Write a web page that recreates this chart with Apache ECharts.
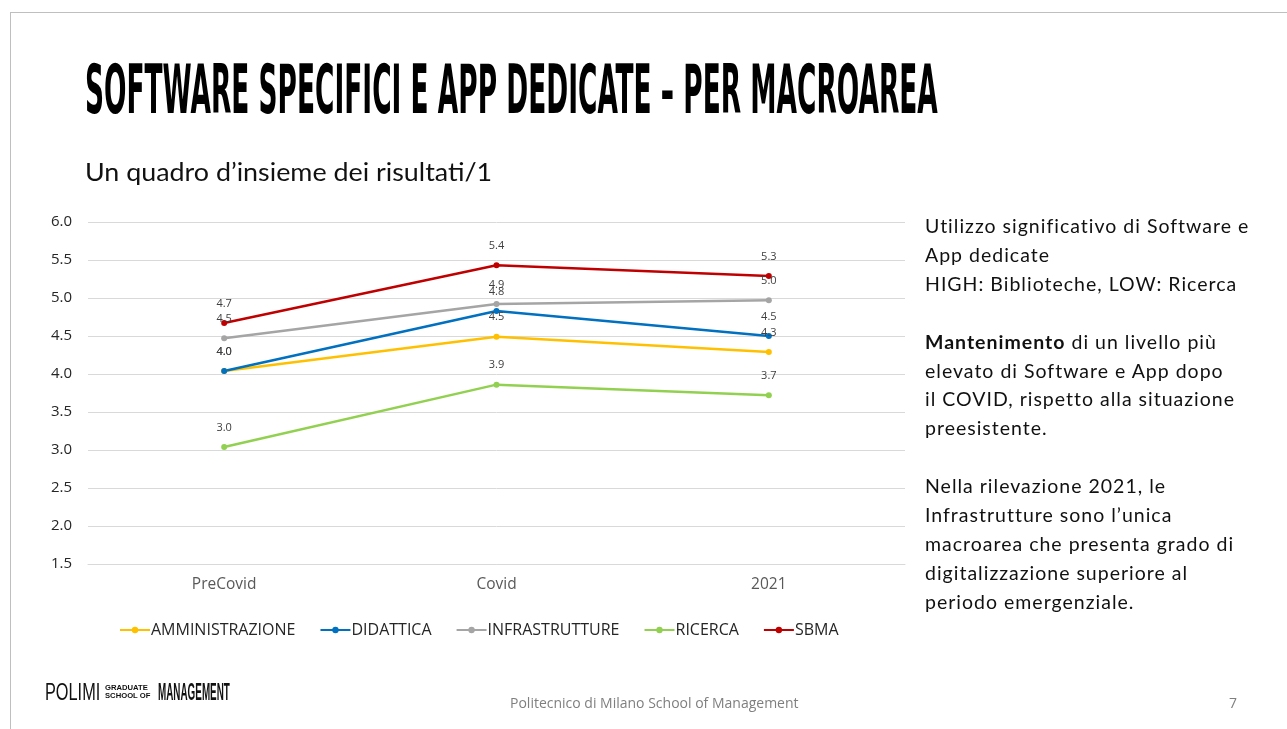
<!DOCTYPE html>
<html>
<head>
<meta charset="utf-8">
<script src="https://cdn.jsdelivr.net/npm/echarts@6/dist/echarts.min.js"></script>
<style>
  html, body { margin: 0; padding: 0; background: #fff; }
  #page { position: relative; width: 1287px; height: 729px; overflow: hidden; }
  #chart { position: absolute; left: 0; top: 0; width: 1287px; height: 729px; }
  .frame-top { position: absolute; left: 10px; top: 12px; width: 1277px; height: 1px; background: #bfbfbf; }
  .frame-left { position: absolute; left: 10px; top: 12px; width: 1px; height: 717px; background: #bfbfbf; }
  .title { position: absolute; left: 85px; top: 50px; font-family: "Liberation Sans Narrow", "DejaVu Sans Condensed", sans-serif;
           font-weight: bold; font-size: 68px; line-height: 80px; white-space: nowrap; color: #000; transform-origin: 0 0; }
  .subtitle { position: absolute; left: 85px; top: 156px; font-family: Lato, sans-serif; font-size: 25px; color: #111; white-space: nowrap; transform-origin: 0 0; }
  .notes { position: absolute; left: 925px; top: 212px; font-family: Lato, sans-serif; font-size: 19.5px; letter-spacing: 1px; line-height: 28.9px; color: #111; white-space: nowrap; }
  .footer { position: absolute; top: 693px; font-family: "Open Sans", sans-serif; font-size: 14px; color: #7f7f7f; }
  .logo { position: absolute; font-family: "Liberation Sans Narrow", sans-serif; font-weight: bold; color: #111; white-space: nowrap; transform-origin: 0 0; }
</style>
</head>
<body>
<div id="page">
  <div id="chart"></div>
  <div class="frame-top"></div>
  <div class="frame-left"></div>
  <div class="title" id="title">SOFTWARE SPECIFICI E APP DEDICATE – PER MACROAREA</div>
  <div class="subtitle" id="subtitle">Un quadro d’insieme dei risultati/1</div>
  <div class="notes">
    Utilizzo significativo di Software e<br>
    App dedicate<br>
    HIGH: Biblioteche, LOW: Ricerca<br>
    <br>
    <b>Mantenimento</b> di un livello più<br>
    elevato di Software e App dopo<br>
    il COVID, rispetto alla situazione<br>
    preesistente.<br>
    <br>
    Nella rilevazione 2021, le<br>
    Infrastrutture sono l’unica<br>
    macroarea che presenta grado di<br>
    digitalizzazione superiore al<br>
    periodo emergenziale.
  </div>
  <div class="logo" id="logo1" style="left:45px; top:678px; font-size:24px; font-weight:normal;">POLIMI</div>
  <div class="logo" id="logo2" style="left:105px; top:684px; font-size:8px; line-height:8px;">GRADUATE<br>SCHOOL OF</div>
  <div class="logo" id="logo3" style="left:158px; top:678px; font-size:24px;">MANAGEMENT</div>
  <div class="footer" style="left:510px;">Politecnico di Milano School of Management</div>
  <div class="footer" style="left:1229px;">7</div>
</div>
<script>
// categories and series values
const periods = ['PreCovid', 'Covid', '2021'];
const amministrazione = [4.04, 4.49, 4.29];
const didattica = [4.04, 4.83, 4.50];
const infrastrutture = [4.47, 4.92, 4.97];
const ricerca = [3.04, 3.86, 3.72];
const sbma = [4.67, 5.43, 5.29];

const seriesDefs = [
  { name: 'AMMINISTRAZIONE', data: amministrazione, color: '#FFC000' },
  { name: 'DIDATTICA', data: didattica, color: '#0070C0' },
  { name: 'INFRASTRUTTURE', data: infrastrutture, color: '#A5A5A5' },
  { name: 'RICERCA', data: ricerca, color: '#92D050' },
  { name: 'SBMA', data: sbma, color: '#C00000' }
];

// squeeze text blocks to the widths used on the slide
const fit = (id, w) => {
  const el = document.getElementById(id);
  el.style.transform = 'scaleX(' + (w / el.scrollWidth) + ')';
};
fit('title', 853);
fit('subtitle', 407);
fit('logo1', 55);
fit('logo2', 45);
fit('logo3', 72);

const chart = echarts.init(document.getElementById('chart'), null, { renderer: 'canvas' });
chart.setOption({
  animation: false,
  grid: { left: 88, right: 382, top: 222, bottom: 165, containLabel: false },
  legend: {
    left: 114, top: 617,
    itemWidth: 30, itemHeight: 8, itemGap: 24,
    textStyle: { fontFamily: 'Open Sans', fontSize: 16, color: '#262626', padding: [0, 0, 0, -4] },
    data: seriesDefs.map(s => s.name)
  },
  xAxis: {
    type: 'category',
    data: periods,
    boundaryGap: true,
    axisLine: { lineStyle: { color: '#d9d9d9', width: 1 } },
    axisTick: { show: false },
    axisLabel: { fontFamily: 'Open Sans', fontSize: 15.5, color: '#595959', margin: 13 }
  },
  yAxis: {
    type: 'value',
    min: 1.5, max: 6, interval: 0.5,
    axisLine: { show: false },
    axisTick: { show: false },
    splitLine: { lineStyle: { color: '#d9d9d9', width: 1 } },
    axisLabel: {
      fontFamily: 'Open Sans', fontSize: 15, color: '#262626', margin: 16,
      formatter: v => v.toFixed(1)
    }
  },
  series: seriesDefs.map(s => ({
    name: s.name,
    type: 'line',
    data: s.data,
    color: s.color,
    symbol: 'circle',
    symbolSize: 6,
    lineStyle: { width: 2.5, color: s.color },
    itemStyle: { color: s.color },
    label: {
      show: true, position: 'top', distance: 11,
      fontFamily: 'Open Sans', fontSize: 11, color: '#404040',
      formatter: p => p.value.toFixed(1)
    }
  }))
});
</script>
</body>
</html>
